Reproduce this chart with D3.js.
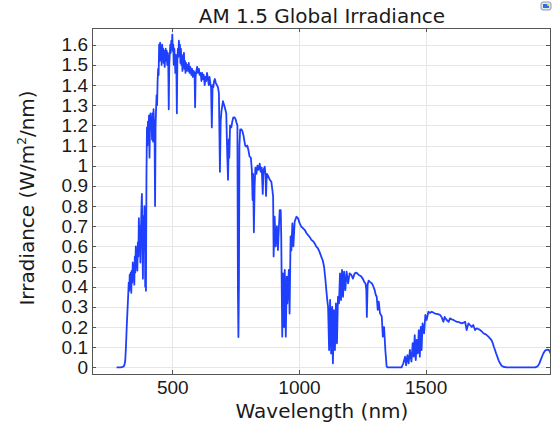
<!doctype html>
<html lang='en'>
<head>
<meta charset='UTF-8'>
<title>AM 1.5 Global Irradiance</title>
<style>
  body, html {
    margin: 0;
    padding: 0;
    background: #fff;
  }
  svg {
    display: block;
    font-family: 'DejaVu Sans', sans-serif;
  }
  .tick text {
    font-size: 19px;
    fill: #1a1a1a;
  }
  .grid line {
    stroke: #e6e6e6;
    shape-rendering: crispEdges;
  }
  .grid path, .frame-axis path {
    display: none;
  }
  .frame-axis line {
    stroke: #555;
    shape-rendering: crispEdges;
  }
  .label {
    font-size: 20px;
    fill: #1a1a1a;
    text-anchor: middle;
  }
</style>
</head>
<body>
<script src='https://d3js.org/d3.v7.min.js'></script>
<script>
  // wavelength (nm) and irradiance (W/m^2/nm)
  const wavelength = [
    280, 296, 305, 310, 314, 317, 320, 323, 326, 328,
    330, 332, 334, 336, 338, 340, 342, 344, 346, 348,
    350, 352, 354, 356, 358, 360, 362, 364, 366, 368,
    370, 372, 374, 376, 378, 380, 382, 384, 386, 388,
    390, 392, 393, 395, 396, 398, 400, 402, 404, 406,
    408, 410, 412, 414, 416, 418, 420, 422, 424, 426,
    428, 430, 432, 434, 436, 438, 440, 442, 444, 446,
    448, 450, 452, 454, 456, 458, 460, 462, 464, 466,
    468, 470, 472, 474, 476, 478, 480, 482, 484, 486,
    488, 490, 492, 494, 496, 498, 500, 502, 504, 506,
    508, 510, 512, 514, 516, 518, 520, 522, 524, 526,
    528, 530, 532, 534, 536, 538, 540, 542, 544, 546,
    548, 550, 552, 554, 556, 558, 562, 565, 568, 571,
    575, 578, 581, 584, 588, 590, 592, 595, 598, 601,
    605, 608, 612, 615, 618, 621, 624, 628, 631, 634,
    637, 641, 644, 647, 650, 653, 656, 659, 662, 665,
    668, 672, 676, 680, 684, 688, 691, 694, 700, 707,
    713, 717, 720, 723, 725, 728, 733, 737, 741, 746,
    750, 754, 757, 759, 761, 763, 765, 768, 773, 777,
    781, 785, 788, 792, 796, 800, 805, 810, 814, 817,
    819, 822, 825, 828, 832, 836, 840, 845, 849, 853,
    857, 860, 865, 868, 870, 873, 878, 885, 891, 895,
    898, 900, 904, 908, 913, 917, 921, 924, 928, 930,
    934, 937, 941, 944, 948, 952, 954, 960, 963, 967,
    970, 974, 978, 983, 990, 996, 1003, 1009, 1016, 1023,
    1030, 1036, 1043, 1049, 1056, 1062, 1068, 1075, 1082, 1088,
    1094, 1099, 1104, 1108, 1112, 1115, 1119, 1123, 1127, 1131,
    1134, 1138, 1142, 1146, 1150, 1154, 1158, 1162, 1166, 1170,
    1174, 1178, 1183, 1188, 1194, 1200, 1207, 1213, 1220, 1227,
    1233, 1240, 1246, 1252, 1257, 1263, 1266, 1268, 1271, 1275,
    1279, 1284, 1288, 1294, 1299, 1303, 1307, 1311, 1315, 1320,
    1324, 1327, 1331, 1336, 1341, 1346, 1350, 1405, 1412, 1419,
    1423, 1428, 1433, 1438, 1444, 1449, 1453, 1457, 1461, 1465,
    1469, 1473, 1477, 1481, 1484, 1488, 1494, 1499, 1504, 1511,
    1518, 1524, 1530, 1537, 1545, 1557, 1563, 1570, 1575, 1583,
    1591, 1596, 1603, 1610, 1617, 1623, 1630, 1642, 1650, 1656,
    1662, 1669, 1675, 1682, 1688, 1695, 1702, 1708, 1715, 1722,
    1728, 1735, 1741, 1748, 1754, 1760, 1765, 1770, 1774, 1778,
    1783, 1788, 1794, 1800, 1807, 1820, 1932, 1940, 1945, 1950,
    1954, 1960, 1965, 1970, 1975, 1982, 1987, 1993, 1998, 2005
  ]
  const irradiance = [
    0, 0, 0.002, 0.008, 0.03, 0.1, 0.2, 0.28, 0.36, 0.42,
    0.38, 0.46, 0.40, 0.47, 0.37, 0.48, 0.42, 0.52, 0.44, 0.50,
    0.41, 0.55, 0.47, 0.60, 0.50, 0.58, 0.48, 0.62, 0.55, 0.74,
    0.60, 0.70, 0.52, 0.66, 0.78, 0.86, 0.62, 0.44, 0.75, 0.58,
    0.80, 0.66, 0.40, 0.55, 0.38, 0.95, 1.19, 1.10, 1.22, 1.15,
    1.25, 1.04, 1.20, 1.26, 1.18, 1.24, 1.13, 1.26, 1.12, 1.28,
    1.20, 1.15, 0.80, 1.20, 1.28, 1.35, 1.30, 1.42, 1.48, 1.45,
    1.60, 1.52, 1.61, 1.56, 1.58, 1.50, 1.60, 1.53, 1.58, 1.51,
    1.57, 1.49, 1.55, 1.58, 1.52, 1.57, 1.50, 1.56, 1.52, 1.28,
    1.50, 1.55, 1.60, 1.56, 1.62, 1.58, 1.65, 1.57, 1.60, 1.50,
    1.58, 1.53, 1.46, 1.55, 1.50, 1.26, 1.52, 1.58, 1.54, 1.62,
    1.55, 1.60, 1.51, 1.58, 1.50, 1.55, 1.47, 1.53, 1.50, 1.56,
    1.48, 1.52, 1.46, 1.51, 1.47, 1.50, 1.47, 1.51, 1.46, 1.49,
    1.45, 1.48, 1.44, 1.47, 1.46, 1.29, 1.44, 1.47, 1.49, 1.46,
    1.48, 1.45, 1.46, 1.42, 1.46, 1.43, 1.45, 1.40, 1.44, 1.42,
    1.46, 1.43, 1.40, 1.44, 1.41, 1.39, 1.19, 1.40, 1.39, 1.42,
    1.43, 1.41, 1.40, 1.39, 1.36, 0.97, 1.22, 1.27, 1.32, 1.29,
    1.26, 1.05, 0.93, 1.13, 1.04, 1.20, 1.19, 1.22, 1.24, 1.24,
    1.23, 1.21, 1.20, 0.38, 0.15, 0.40, 1.10, 1.18, 1.18, 1.17,
    1.15, 1.12, 1.10, 1.095, 1.10, 1.08, 1.045, 1.04, 0.98, 0.83,
    0.96, 0.67, 0.90, 0.99, 0.96, 1.00, 0.98, 1.01, 0.97, 0.99,
    0.86, 0.98, 0.995, 0.95, 0.85, 0.96, 0.95, 0.93, 0.92, 0.88,
    0.846, 0.55, 0.747, 0.60, 0.70, 0.582, 0.70, 0.78, 0.78, 0.65,
    0.152, 0.466, 0.20, 0.483, 0.152, 0.45, 0.317, 0.483, 0.267, 0.65,
    0.58, 0.714, 0.60, 0.722, 0.747, 0.74, 0.714, 0.698, 0.69, 0.681,
    0.665, 0.656, 0.645, 0.632, 0.625, 0.615, 0.60, 0.59, 0.57, 0.549,
    0.53, 0.50, 0.44, 0.383, 0.33, 0.30, 0.086, 0.334, 0.069, 0.30,
    0.02, 0.284, 0.086, 0.317, 0.119, 0.35, 0.317, 0.466, 0.334, 0.483,
    0.35, 0.475, 0.383, 0.475, 0.416, 0.466, 0.458, 0.44, 0.466, 0.47,
    0.462, 0.455, 0.45, 0.44, 0.425, 0.415, 0.383, 0.25, 0.41, 0.43,
    0.425, 0.42, 0.416, 0.40, 0.383, 0.36, 0.35, 0.285, 0.326, 0.267,
    0.26, 0.25, 0.152, 0.20, 0.086, 0.005, 0, 0, 0.02, 0.053,
    0.01, 0.06, 0.02, 0.086, 0.028, 0.12, 0.053, 0.16, 0.036, 0.136,
    0.07, 0.185, 0.053, 0.20, 0.086, 0.218, 0.169, 0.26, 0.235, 0.276,
    0.27, 0.276, 0.272, 0.267, 0.265, 0.26, 0.25, 0.226, 0.25, 0.235,
    0.226, 0.243, 0.238, 0.235, 0.23, 0.226, 0.225, 0.218, 0.222, 0.226,
    0.185, 0.218, 0.21, 0.20, 0.21, 0.185, 0.193, 0.19, 0.185, 0.178,
    0.169, 0.165, 0.16, 0.152, 0.144, 0.135, 0.12, 0.10, 0.086, 0.07,
    0.053, 0.035, 0.02, 0.008, 0.003, 0, 0, 0.004, 0.01, 0.022,
    0.036, 0.055, 0.07, 0.08, 0.086, 0.088, 0.086, 0.07, 0.05, 0.04
  ]
  const xTicks = [500, 1000, 1500]
  const yTicks = [0, 0.1, 0.2, 0.3, 0.4, 0.5, 0.6, 0.7, 0.8, 0.9, 1,
                  1.1, 1.2, 1.3, 1.4, 1.5, 1.6]

  const w = 555
  const h = 426
  const margin = {top: 28, bottom: 52, left: 92, right: 5}
  const width = w - margin.left - margin.right
  const height = h - margin.top - margin.bottom

  const data = wavelength.map((d, i) => ({x: d, y: irradiance[i]}))

  const x = d3.scaleLinear()
    .domain([183, 1991])
    .range([0, width])

  const y = d3.scaleLinear()
    .domain([-0.033, 1.683])
    .range([height, 0])

  const svg = d3.select('body').append('svg')
    .attr('width', w)
    .attr('height', h)

  const chart = svg.append('g')
    .attr('transform', `translate(${margin.left}, ${margin.top})`)

  // grid
  chart.append('g')
    .attr('class', 'grid')
    .call(d3.axisLeft(y).tickValues(yTicks).tickSize(-width).tickFormat(''))
  chart.append('g')
    .attr('class', 'grid')
    .attr('transform', `translate(0, ${height})`)
    .call(d3.axisBottom(x).tickValues(xTicks).tickSize(-height).tickFormat(''))

  svg.append('clipPath')
    .attr('id', 'clip')
    .append('rect')
    .attr('width', width)
    .attr('height', height)

  const line = d3.line()
    .x(d => x(d.x))
    .y(d => y(d.y))

  chart.append('path')
    .datum(data)
    .attr('clip-path', 'url(#clip)')
    .attr('fill', 'none')
    .attr('stroke', '#1f3fff')
    .attr('stroke-width', 1.8)
    .attr('stroke-linejoin', 'round')
    .attr('d', line)

  // axes with inward ticks on all four sides
  const fmt = d => String(+d.toFixed(1))

  chart.append('g')
    .attr('class', 'frame-axis')
    .call(d3.axisLeft(y).tickValues(yTicks).tickSizeInner(-4).tickSizeOuter(0)
      .tickPadding(4).tickFormat(fmt))
  chart.append('g')
    .attr('class', 'frame-axis')
    .attr('transform', `translate(${width}, 0)`)
    .call(d3.axisRight(y).tickValues(yTicks).tickSizeInner(-4).tickSizeOuter(0).tickFormat(''))
  chart.append('g')
    .attr('class', 'frame-axis')
    .attr('transform', `translate(0, ${height})`)
    .call(d3.axisBottom(x).tickValues(xTicks).tickSizeInner(-4).tickSizeOuter(0)
      .tickPadding(7).tickFormat(d3.format('d')))
  chart.append('g')
    .attr('class', 'frame-axis')
    .call(d3.axisTop(x).tickValues(xTicks).tickSizeInner(-4).tickSizeOuter(0).tickFormat(''))

  chart.selectAll('.frame-axis text')
    .attr('font-family', null)
    .attr('font-size', null)

  chart.append('rect')
    .attr('width', width)
    .attr('height', height)
    .attr('fill', 'none')
    .attr('stroke', '#555')
    .attr('shape-rendering', 'crispEdges')

  // titles
  svg.append('text')
    .attr('class', 'label')
    .attr('x', 322)
    .attr('y', 23)
    .text('AM 1.5 Global Irradiance')

  svg.append('text')
    .attr('class', 'label')
    .attr('x', 322)
    .attr('y', 418)
    .text('Wavelength (nm)')

  const yLabel = svg.append('text')
    .attr('class', 'label')
    .attr('transform', 'translate(34, 198) rotate(-90)')
  yLabel.append('tspan').text('Irradiance (W/m')
  yLabel.append('tspan').attr('font-size', '12px').attr('dy', -8).text('2')
  yLabel.append('tspan').attr('dy', 8).text('/nm)')

  // small toolbar icon in the corner
  const icon = svg.append('g').attr('transform', 'translate(541, 2)')
  icon.append('rect')
    .attr('width', 10).attr('height', 8).attr('rx', 2)
    .attr('fill', '#dfe8f2').attr('stroke', '#8a9bb0')
  icon.append('rect')
    .attr('x', 2).attr('y', 2).attr('width', 6).attr('height', 4)
    .attr('fill', '#2f6fd6')
  icon.append('rect')
    .attr('x', 6).attr('y', 2).attr('width', 2).attr('height', 2)
    .attr('fill', '#f2c230')
</script>
</body>
</html>
